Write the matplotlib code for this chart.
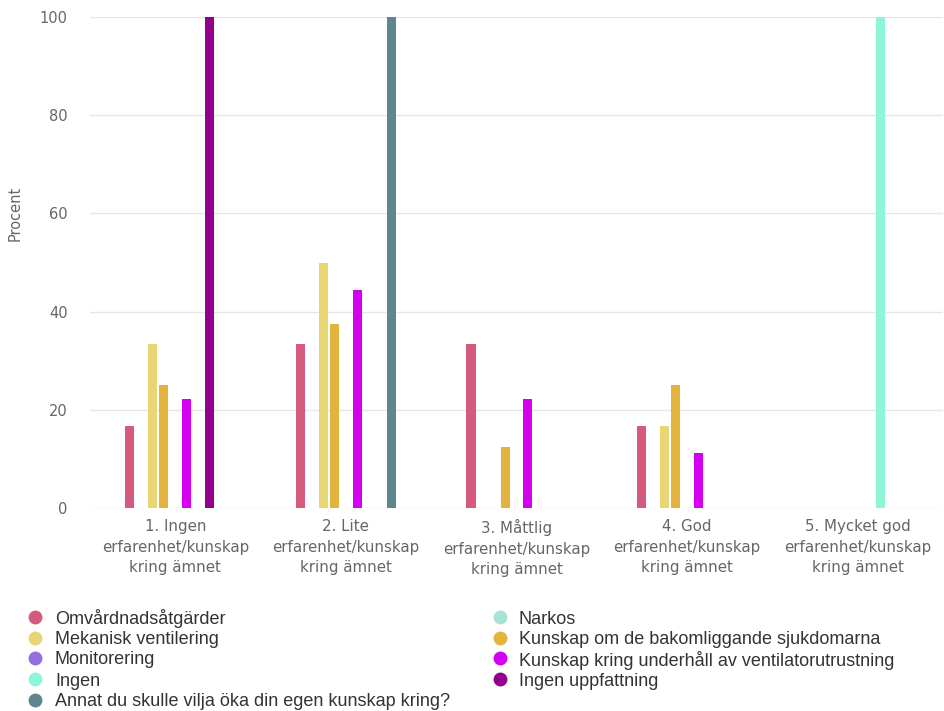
import numpy as np
import matplotlib
matplotlib.use("Agg")
import matplotlib.pyplot as plt
from matplotlib.lines import Line2D

categories = [
    "1. Ingen\nerfarenhet/kunskap\nkring ämnet",
    "2. Lite\nerfarenhet/kunskap\nkring ämnet",
    "3. Måttlig\nerfarenhet/kunskap\nkring ämnet",
    "4. God\nerfarenhet/kunskap\nkring ämnet",
    "5. Mycket god\nerfarenhet/kunskap\nkring ämnet",
]

series_names = [
    "Omvårdnadsåtgärder",
    "Narkos",
    "Mekanisk ventilering",
    "Kunskap om de bakomliggande sjukdomarna",
    "Monitorering",
    "Kunskap kring underhåll av ventilatorutrustning",
    "Ingen",
    "Ingen uppfattning",
    "Annat du skulle vilja öka din egen kunskap kring?",
]

omvardnad = [16.7, 33.3, 33.3, 16.7, 0]
narkos = [0, 0, 0, 0, 0]
mekanisk = [33.3, 50.0, 0, 16.7, 0]
kunskap_om = [25.0, 37.5, 12.5, 25.0, 0]
monitorering = [0, 0, 0, 0, 0]
kunskap_kring = [22.2, 44.4, 22.2, 11.1, 0]
ingen = [0, 0, 0, 0, 100]
ingen_uppfattning = [100, 0, 0, 0, 0]
annat = [0, 100, 0, 0, 0]

values = [omvardnad, narkos, mekanisk, kunskap_om, monitorering,
          kunskap_kring, ingen, ingen_uppfattning, annat]

colors = ["#d45a7e", "#a9e2d7", "#e8d574", "#e2b43e", "#9370db",
          "#d400f0", "#8ff5d8", "#93008d", "#5f868e"]

yticks = [0, 20, 40, 60, 80, 100]

plt.rcParams["font.family"] = ["DejaVu Sans"]

W, H = 944, 711
fig = plt.figure(figsize=(W / 100, H / 100), dpi=100)
ax = fig.add_axes([90 / W, (H - 508) / H, 853 / W, 491 / H])

x = np.arange(len(categories))
n = len(series_names)
slot = 0.6 / n
for i, (vals, col) in enumerate(zip(values, colors)):
    ax.bar(x + (i - (n - 1) / 2) * slot, vals, width=slot * 0.8,
           color=col, linewidth=0, zorder=3)

ax.set_xlim(-0.5, len(categories) - 0.5)
ax.set_ylim(0, 100)
ax.set_yticks(yticks)
ax.set_xticks(x)
ax.set_xticklabels(categories, fontsize=10.8, color="#666666", linespacing=1.45)
ax.tick_params(axis="x", length=0, pad=8)
ax.tick_params(axis="y", length=0, pad=16, labelsize=10.5, labelcolor="#666666")
ax.grid(axis="y", color="#e6e6e6", linewidth=1.0, zorder=0)
for s in ax.spines.values():
    s.set_visible(False)
ax.set_ylabel("Procent", fontsize=10.5, color="#666666")
ax.yaxis.set_label_coords(-0.079, 0.60)

# legend drawn by hand: two columns, filled row-wise, evenly spaced rows
left_idx = [0, 2, 4, 6, 8]
right_idx = [1, 3, 5, 7]
row_y = [617, 638, 658, 679, 700]
for idx, mx, tx in ((left_idx, 35, 55), (right_idx, 500, 519)):
    for row, i in enumerate(idx):
        yf = 1 - row_y[row] / H
        fig.add_artist(Line2D([mx / W], [yf], transform=fig.transFigure,
                              linestyle="none", marker="o", markersize=10,
                              markerfacecolor=colors[i], markeredgewidth=0))
        fig.text(tx / W, yf, series_names[i], ha="left", va="center_baseline",
                 family="Liberation Sans", fontsize=13, color="#333333")

fig.savefig("out.png", dpi=100)
